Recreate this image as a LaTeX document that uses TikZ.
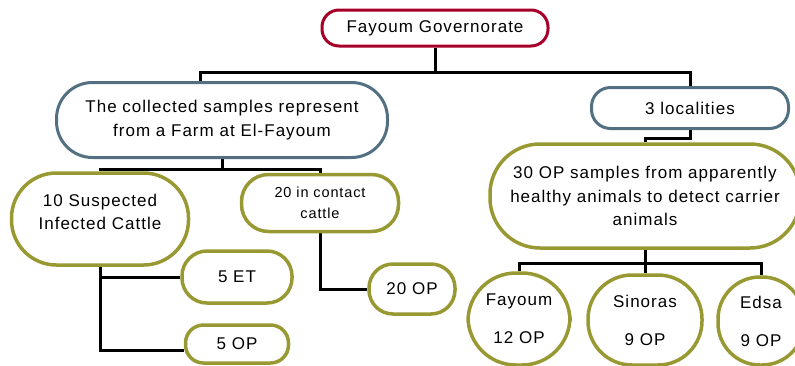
\documentclass[tikz,border=0pt]{standalone}
\usepackage{fontspec}
\setmainfont[LetterSpace=6]{Liberation Sans}
\usetikzlibrary{backgrounds}
\definecolor{gred}{RGB}{166,0,42}
\definecolor{gblue}{RGB}{82,112,130}
\definecolor{golive}{RGB}{153,153,51}
\tikzset{
  box/.style={draw, line width=3pt, fill=white, align=center, inner sep=0pt,
    font=\fontsize{17}{23.5}\selectfont, text=black},
  redbox/.style={box, draw=gred},
  bluebox/.style={box, draw=gblue},
  olivebox/.style={box, draw=golive, line width=3.5pt},
  conn/.style={draw=black, line width=3pt},
}
\begin{document}
\begin{tikzpicture}[x=1pt, y=-1pt]
\useasboundingbox (0,0) rectangle (795,365);
\clip (0,0) rectangle (795,365);

\node[redbox, minimum width=226pt, minimum height=36pt, rounded corners=17pt] (gov) at (435,28) {Fayoum Governorate};
\node[bluebox, minimum width=331pt, minimum height=75pt, rounded corners=36pt] (farm) at (222,120) {The collected samples represent\\from a Farm at El-Fayoum};
\node[bluebox, minimum width=197pt, minimum height=41pt, rounded corners=19pt] (loc) at (690,108) {3 localities};
\node[olivebox, minimum width=310pt, minimum height=104pt, rounded corners=50pt] (op30) at (645,196) {30 OP samples from apparently\\healthy animals to detect carrier\\animals};
\node[olivebox, minimum width=177pt, minimum height=92pt, rounded corners=45pt] (sus) at (100,219) {10 Suspected\\Infected Cattle\\[-9pt]\mbox{}};
\node[olivebox, minimum width=157pt, minimum height=57pt, rounded corners=27pt, font=\fontsize{14.5}{21}\selectfont] (con) at (320,203) {20 in contact\\cattle};
\node[olivebox, minimum width=110pt, minimum height=52pt, rounded corners=25pt] (et5) at (237,277) {5 ET};
\node[olivebox, minimum width=103pt, minimum height=38pt, rounded corners=18pt] (op5) at (237,344) {5 OP};
\node[olivebox, minimum width=86pt, minimum height=50pt, rounded corners=24pt] (op20) at (412,289) {20 OP};
\node[olivebox, minimum width=102pt, minimum height=92pt, rounded corners=48pt] (fay) at (519,319) {Fayoum\\[14.5pt]12 OP};
\node[olivebox, minimum width=114pt, minimum height=90pt, rounded corners=44pt] (sin) at (645,320) {Sinoras\\[14.5pt]9 OP};
\node[olivebox, minimum width=86pt, minimum height=88pt, rounded corners=42pt] (eds) at (761,321) {Edsa\\[14.5pt]9 OP};

\begin{pgfonlayer}{background}
\coordinate (j1) at (434,72);
\draw[conn] (gov.south) -- (gov.south |- j1);
\draw[conn] (farm.north -| 200,0) |- (j1) -| (loc.north);
\draw[conn] (loc.south) -- ++(0,8) -| (op30.north);
\draw[conn] (farm.south) -- ++(0,10) coordinate (j2);
\draw[conn] (sus.north) |- (j2) -| (con.north);
\draw[conn] (sus.south) |- (et5.west);
\draw[conn] (sus.south) |- ([yshift=-6pt]op5.west);
\draw[conn] (con.south) |- (op20.west);
\draw[conn] (op30.south) -- ++(0,14) coordinate (j3);
\draw[conn] (fay.north) |- (j3) -| (eds.north);
\draw[conn] (j3) -- (sin.north);
\end{pgfonlayer}
\end{tikzpicture}
\end{document}
